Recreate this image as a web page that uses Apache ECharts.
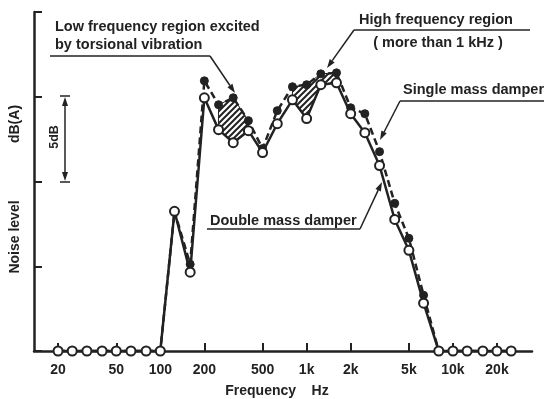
<!DOCTYPE html>
<html>
<head>
<meta charset="utf-8">
<script src="https://cdn.jsdelivr.net/npm/echarts@6/dist/echarts.min.js"></script>
<style>
  html, body { margin: 0; background: #fff; }
  #chart { width: 544px; height: 399px; }
</style>
</head>
<body>
<div id="chart"></div>
<script>
// 1/3 octave band centre frequencies (Hz)
const freqs = [20, 25, 31.5, 40, 50, 63, 80, 100, 125, 160, 200, 250, 315, 400, 500, 630,
  800, 1000, 1250, 1600, 2000, 2500, 3150, 4000, 5000, 6300, 8000, 10000, 12500, 16000, 20000, 25000];
// relative noise level, dB(A) (one axis step = 5 dB)
const singleMass = [0, 0, 0, 0, 0, 0, 0, 0, 8.24, 5.12, 15.94, 14.53, 14.94, 13.59, 11.94, 14.18,
  15.59, 15.71, 16.35, 16.41, 14.35, 14.0, 11.76, 8.71, 6.65, 3.29, 0, 0, 0, 0, 0, 0];
const doubleMass = [0, 0, 0, 0, 0, 0, 0, 0, 8.24, 4.65, 14.94, 13.06, 12.29, 13.0, 11.71, 13.41,
  14.82, 13.71, 15.71, 15.82, 14.0, 12.88, 10.94, 7.76, 5.94, 2.82, 0, 0, 0, 0, 0, 0];
const labelFreqs = [20, 50, 100, 200, 500, 1000, 2000, 5000, 10000, 20000];
const tickFreqs = [20, 50, 200, 500, 1000, 2000, 5000, 10000, 20000];
const hatchRanges = [[250, 400], [800, 1600]];

const INK = '#222';
const FONT = '"Liberation Sans", Arial, sans-serif';

// diagonal hatch pattern
const pat = document.createElement('canvas');
pat.width = 6; pat.height = 6;
const pc = pat.getContext('2d');
pc.strokeStyle = INK; pc.lineWidth = 2;
pc.beginPath();
pc.moveTo(-1, 7); pc.lineTo(7, -1);
pc.moveTo(-4, 4); pc.lineTo(4, -4);
pc.moveTo(2, 10); pc.lineTo(10, 2);
pc.stroke();

function arrow(x1, y1, x2, y2) {
  const a = Math.atan2(y2 - y1, x2 - x1);
  const L = 9, W = 3;
  const bx = x2 - L * Math.cos(a), by = y2 - L * Math.sin(a);
  return [
    { type: 'line', shape: { x1, y1, x2: bx, y2: by }, style: { stroke: INK, lineWidth: 1.5 } },
    { type: 'polygon', shape: { points: [[x2, y2],
        [bx + W * Math.sin(a), by - W * Math.cos(a)],
        [bx - W * Math.sin(a), by + W * Math.cos(a)]] }, style: { fill: INK } }
  ];
}
function hline(x1, x2, y) {
  return { type: 'line', shape: { x1, y1: y, x2, y2: y }, style: { stroke: INK, lineWidth: 1.5 } };
}
function txt(text, x, y, align, size, rot) {
  return { type: 'text', x, y, rotation: rot || 0,
    style: { text, font: 'bold ' + (size || 14.5) + 'px ' + FONT, fill: INK,
      textAlign: align || 'left', textVerticalAlign: 'middle' } };
}

const chart = echarts.init(document.getElementById('chart'));
chart.setOption({
  animation: false,
  backgroundColor: '#fff',
  grid: { left: 34, right: 12, top: 12, bottom: 48, outerBoundsMode: 'none', containLabel: false },
  xAxis: {
    type: 'log', logBase: 10, min: 13.7, max: 34700,
    name: 'Frequency    Hz', nameLocation: 'middle', nameGap: 33,
    nameTextStyle: { color: INK, fontWeight: 'bold', fontSize: 14, fontFamily: FONT, padding: [0, 0, 0, -12] },
    axisLine: { show: true, lineStyle: { color: INK, width: 2.5 } },
    axisTick: { show: true, inside: true, length: 8, customValues: tickFreqs,
      lineStyle: { color: INK, width: 2 } },
    axisLabel: { show: true, customValues: labelFreqs, margin: 12, color: INK,
      fontWeight: 'bold', fontSize: 14, fontFamily: FONT,
      formatter: v => v >= 1000 ? (v / 1000) + 'k' : String(v) },
    splitLine: { show: false }, minorTick: { show: false }
  },
  yAxis: {
    type: 'value', min: 0, max: 20, interval: 5,
    axisLine: { show: true, lineStyle: { color: INK, width: 2.5 } },
    axisTick: { show: true, inside: true, length: 8, lineStyle: { color: INK, width: 2 } },
    axisLabel: { show: false },
    splitLine: { show: false }
  },
  series: [
    {
      type: 'custom', z: 1, silent: true,
      data: hatchRanges.map(r => [r[0], r[1], 0]),
      encode: { x: [0, 1], y: 2 },
      renderItem: (params, api) => {
        const r = hatchRanges[params.dataIndex];
        const idx = freqs.map((f, i) => i).filter(i => freqs[i] >= r[0] && freqs[i] <= r[1]);
        const top = idx.map(i => api.coord([freqs[i], singleMass[i]]));
        const bot = idx.slice().reverse().map(i => api.coord([freqs[i], doubleMass[i]]));
        return { type: 'polygon', shape: { points: top.concat(bot) },
          style: { fill: { image: pat, repeat: 'repeat' }, stroke: INK, lineWidth: 1 } };
      }
    },
    {
      name: 'Single mass damper', type: 'line', z: 3,
      data: freqs.map((f, i) => [f, singleMass[i]]),
      symbol: 'circle', symbolSize: 8, showAllSymbol: true,
      itemStyle: { color: INK, borderColor: INK },
      lineStyle: { color: INK, width: 2.5, type: [7, 4] }
    },
    {
      name: 'Double mass damper', type: 'line', z: 4,
      data: freqs.map((f, i) => [f, doubleMass[i]]),
      symbol: 'circle', symbolSize: 9, showAllSymbol: true,
      itemStyle: { color: '#fff', borderColor: INK, borderWidth: 2 },
      lineStyle: { color: INK, width: 2.5 }
    }
  ],
  graphic: { elements: [
    txt('Low frequency region excited', 55, 27),
    txt('by torsional vibration', 55, 45),
    hline(50, 210, 56),
    ...arrow(210, 56, 235, 93),
    txt('High frequency region', 436, 20, 'center'),
    txt('( more than 1 kHz )', 438, 43, 'center'),
    hline(354, 530, 30),
    ...arrow(354, 30, 327, 68),
    txt('Single mass damper', 403, 90),
    hline(400, 544, 101),
    ...arrow(400, 101, 380, 140),
    txt('Double mass damper', 210, 221),
    hline(207, 360, 229),
    ...arrow(360, 229, 382, 182),
    // 5 dB scale bar
    ...arrow(65, 138, 65, 97),
    ...arrow(65, 138, 65, 181),
    hline(60, 70, 96),
    hline(60, 70, 182),
    txt('5dB', 55, 137, 'center', 12.5, Math.PI / 2),
    txt('dB(A)', 15, 124, 'center', 14, Math.PI / 2),
    txt('Noise level', 15, 237, 'center', 14, Math.PI / 2)
  ] }
});
</script>
</body>
</html>
